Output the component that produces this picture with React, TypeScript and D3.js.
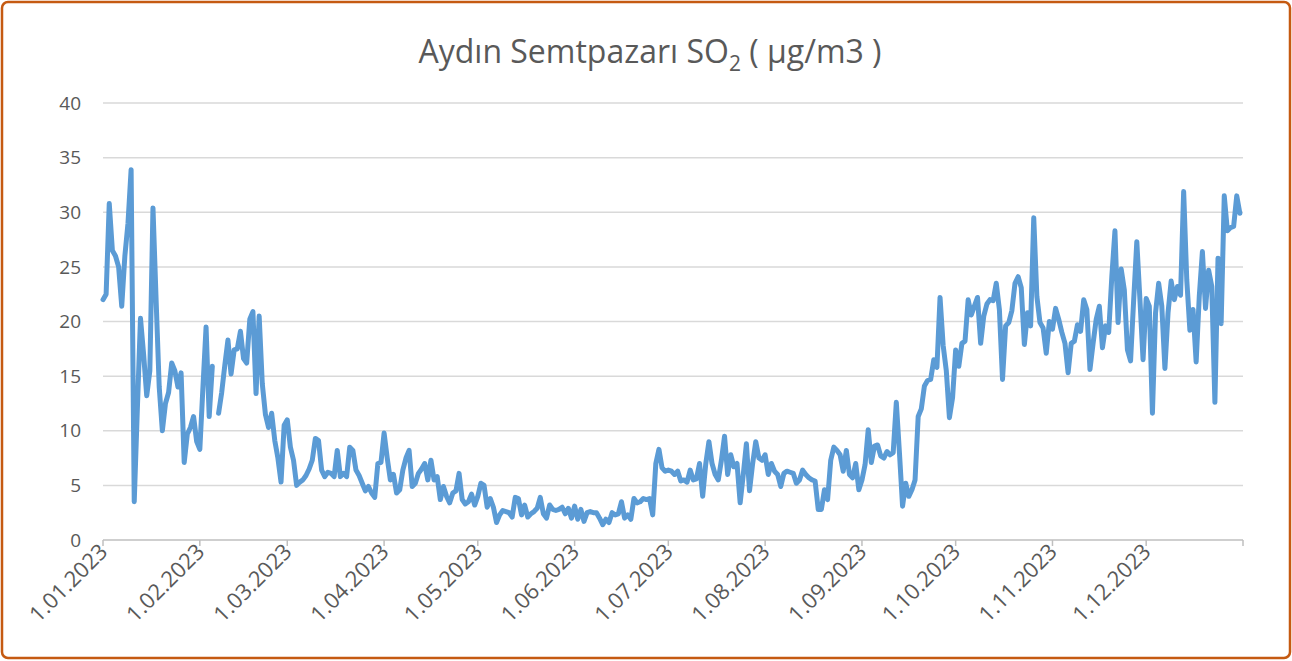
import React from "react";
import * as d3 from "d3";

const jan = [22, 22.5, 30.8, 26.5, 26, 25, 21.4, 26, 29, 33.9, 3.5, 12, 20.3, 17, 13.2, 15.5, 30.4, 22, 14, 10, 12.5, 13.5, 16.2, 15.5, 14, 15.3, 7.1, 9.7, 10.3, 11.3, 9];
const feb = [8.3, 14, 19.5, 11.3, 15.9, null, 11.6, 13.5, 16, 18.3, 15.2, 17.4, 17.5, 19.1, 16.6, 16.2, 20.2, 20.9, 13.4, 20.5, 14.3, 11.5, 10.3, 11.6, 9.1, 7.5, 5.3, 10.5];
const mar = [11, 8.5, 7.3, 5, 5.3, 5.5, 5.9, 6.5, 7.3, 9.3, 9.1, 6.4, 5.8, 6.2, 6.1, 5.8, 8.2, 5.8, 6.1, 5.8, 8.5, 8.2, 6.4, 5.9, 5.2, 4.5, 4.9, 4.3, 3.9, 7, 7.1];
const apr = [9.8, 7.5, 5.5, 6, 4.3, 4.6, 6.4, 7.5, 8.2, 4.9, 5.2, 6.1, 6.5, 7, 5.5, 7.3, 5.5, 5.8, 3.7, 4.9, 4, 3.4, 4.3, 4.5, 6.1, 3.7, 3.3, 3.5, 4.2, 3.2];
const may = [4, 5.2, 5, 3, 3.8, 3, 1.6, 2.3, 2.7, 2.6, 2.5, 2.1, 3.9, 3.8, 2.3, 3.2, 2.1, 2.4, 2.6, 2.9, 3.9, 2.4, 2, 3.2, 2.8, 2.7, 2.8, 3, 2.4, 2.9, 2];
const jun = [3.1, 1.9, 2.8, 1.7, 2.5, 2.6, 2.5, 2.5, 2, 1.4, 1.9, 1.6, 2.5, 2.3, 2.4, 3.5, 2, 2.3, 1.9, 3.8, 3.4, 3.5, 3.8, 3.7, 3.8, 2.3, 7, 8.3, 6.6, 6.3];
const jul = [6.4, 6.3, 6, 6.3, 5.4, 5.5, 5.3, 6.4, 5.5, 5.6, 7, 4, 7, 9, 7, 6, 5.5, 7.3, 9.5, 6, 7.8, 6.7, 7, 3.4, 6, 8.8, 4.5, 7, 9, 7.5, 7.3];
const aug = [7.8, 6, 7, 6.3, 6, 4.9, 6.1, 6.3, 6.2, 6.1, 5.2, 5.5, 6.4, 6, 5.7, 5.5, 5.4, 2.8, 2.8, 4.6, 3.7, 7.3, 8.5, 8.2, 7.8, 6.3, 8.2, 6, 5.7, 7, 4.6];
const sep = [5.5, 6.9, 10.1, 7.1, 8.6, 8.7, 7.7, 7.5, 8.1, 7.8, 8, 12.6, 8, 3.1, 5.2, 4, 4.6, 5.5, 11.3, 12, 14.1, 14.6, 14.7, 16.5, 15.8, 22.2, 17.8, 15.5, 11.2, 13];
const oct = [17.4, 15.9, 18, 18.2, 22, 20.6, 21.4, 22.2, 18, 20.5, 21.6, 22, 21.9, 23.5, 21.1, 14.7, 19.6, 19.9, 21, 23.5, 24.1, 23.1, 17.9, 20.8, 19.6, 29.5, 22.3, 19.9, 19.4, 17.1, 20];
const nov = [19.3, 21.2, 20.2, 19, 18, 15.3, 18, 18.2, 19.7, 19.1, 22, 21.1, 15.6, 18, 20.2, 21.4, 17.6, 19.6, 19, 24.1, 28.3, 19.9, 24.8, 22.9, 17.4, 16.4, 22, 27.3, 22, 16.5];
const dec = [22.1, 21.4, 11.6, 20.8, 23.5, 21.4, 15.7, 20.8, 23.7, 22, 23.2, 22.4, 31.9, 23.8, 19.2, 21.1, 16.3, 22.3, 26.4, 21.2, 24.7, 23.2, 12.6, 25.8, 19.8, 31.5, 28.3, 28.6, 28.7, 31.5, 29.9];

const months = [jan, feb, mar, apr, may, jun, jul, aug, sep, oct, nov, dec];
const yTicks = [0, 5, 10, 15, 20, 25, 30, 35, 40];

const W = 1292;
const H = 661;
const FONT = "'Open Sans', 'Liberation Sans', sans-serif";
const TXT = "#595959";

type Pt = { date: Date; v: number | null };

const series: Pt[] = [];
months.forEach((arr, m) => {
  arr.forEach((v, i) => {
    series.push({ date: new Date(2023, m, i + 1), v });
  });
});

export default function App() {
  const x = d3
    .scaleTime()
    .domain([new Date(2023, 0, 1), new Date(2024, 0, 1)])
    .range([103, 1243]);
  const y = d3.scaleLinear().domain([0, 40]).range([540, 103]);
  const line = d3
    .line<Pt>()
    .defined((d) => d.v !== null)
    .x((d) => x(d.date))
    .y((d) => y(d.v as number));
  const monthTicks = d3.timeMonth.range(new Date(2023, 0, 1), new Date(2024, 0, 2));
  const fmt = d3.timeFormat("%-d.%m.%Y");

  return (
    <div style={{ position: "absolute", left: 0, top: 0 }}>
      <svg width={W} height={H} style={{ display: "block" }}>
        <rect x={0} y={0} width={W} height={H} fill="#fff" />
        <rect x={2} y={2} width={W - 4} height={H - 5} rx={6} fill="#fff" stroke="#C55A11" strokeWidth={2.5} />
        <text x={650} y={63} textAnchor="middle" fontFamily={FONT} fontSize={32} fill={TXT}>
          Aydın Semtpazarı SO<tspan fontSize={21} dy={8}>2</tspan>
          <tspan dy={-8}> ( µg/m3 )</tspan>
        </text>
        {yTicks.map((t) => (
          <g key={t}>
            {t > 0 && (
              <line x1={103} x2={1243} y1={y(t)} y2={y(t)} stroke="#D9D9D9" strokeWidth={1.5} />
            )}
            <text x={81} y={y(t)} dy="0.35em" textAnchor="end" fontFamily={FONT} fontSize={19} fill={TXT}>
              {t}
            </text>
          </g>
        ))}
        <line x1={103} x2={1243} y1={540} y2={540} stroke="#BFBFBF" strokeWidth={1.5} />
        {monthTicks.map((d, i) => (
          <g key={i}>
            <line x1={x(d)} x2={x(d)} y1={540} y2={546} stroke="#BFBFBF" strokeWidth={1.5} />
            {i < 12 && (
              <text
                transform={`translate(${x(d) + 6},${553}) rotate(-45)`}
                textAnchor="end"
                fontFamily={FONT}
                fontSize={22}
                fill={TXT}
              >
                {fmt(d)}
              </text>
            )}
          </g>
        ))}
        <path
          d={line(series) || ""}
          fill="none"
          stroke="#5B9BD5"
          strokeWidth={5}
          strokeLinejoin="round"
          strokeLinecap="round"
        />
      </svg>
    </div>
  );
}
